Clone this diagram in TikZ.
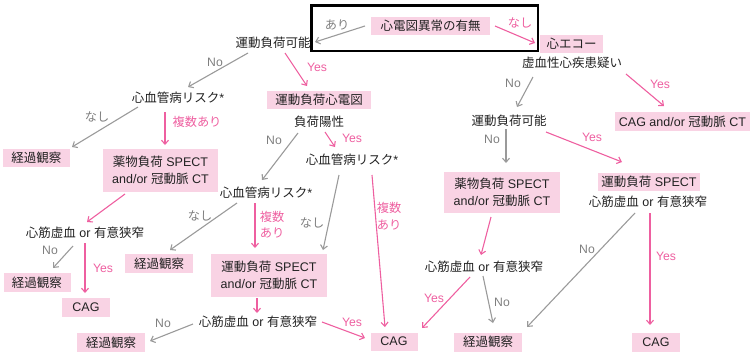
\documentclass[tikz,border=0pt]{standalone}
\usepackage{fontspec}
\setmainfont{Noto Sans CJK JP}
\newfontfamily\lat{Liberation Sans}
\usetikzlibrary{arrows.meta}
\definecolor{pinkfill}{HTML}{F9D3E4}
\definecolor{pinkline}{HTML}{EE5FA0}
\definecolor{grayline}{HTML}{9A9A9A}
\definecolor{graytext}{HTML}{7F7F7F}
\definecolor{txt}{HTML}{222222}
\tikzset{
  box/.style={fill=pinkfill, text=txt, inner sep=0pt, align=center,
    font=\fontsize{12.5}{17}\selectfont},
  plain/.style={text=txt, inner sep=0pt, font=\fontsize{12.5}{17}\selectfont},
  glbl/.style={text=graytext, inner sep=0pt, font=\fontsize{12.2}{16}\selectfont},
  plbl/.style={text=pinkline, inner sep=0pt, font=\fontsize{12.2}{16}\selectfont},
  garrow/.style={draw=grayline, line width=1.1pt, -{Straight Barb[length=4pt,width=7pt]}},
  parrow/.style={draw=pinkline, line width=1.1pt, -{Straight Barb[length=4pt,width=7pt]}},
}
\begin{document}
\begin{tikzpicture}[x=1pt,y=-1pt]
\useasboundingbox (0,0) rectangle (753,354);
% frame
\draw[line width=2.6pt, black] (311.5,5.5) rectangle (538,51);
% boxes
\node[box, minimum width=119pt, minimum height=18pt] (top) at (430.5,26) {心電図異常の有無};
\node[box, minimum width=63pt, minimum height=18pt] (echo) at (571.5,44) {心エコー};
\node[box, minimum width=135pt, minimum height=19pt] (cagct) at (682.5,121.5) {{\lat CAG and/or }冠動脈{\lat\ CT}};
\node[box, minimum width=116pt, minimum height=41pt] (yakuR) at (502,192.5) {薬物負荷{\lat\ SPECT}\\{\lat and/or }冠動脈{\lat\ CT}};
\node[box, minimum width=102pt, minimum height=18pt] (undospect) at (649,182) {運動負荷{\lat\ SPECT}};
\node[box, minimum width=47pt, minimum height=18pt] (cagM) at (394,341.5) {\lat CAG};
\node[box, minimum width=68pt, minimum height=19pt] (keikaMR) at (488,342) {経過観察};
\node[box, minimum width=48pt, minimum height=19pt] (cagR) at (656,342) {\lat CAG};
\node[box, minimum width=104pt, minimum height=18pt] (undoecg) at (319,100) {運動負荷心電図};
\node[box, minimum width=67pt, minimum height=18pt] (keikaL1) at (36.5,158) {経過観察};
\node[box, minimum width=115pt, minimum height=43pt] (yakuL) at (160.5,170.5) {薬物負荷{\lat\ SPECT}\\{\lat and/or }冠動脈{\lat\ CT}};
\node[box, minimum width=67pt, minimum height=19pt] (keikaL2) at (37,282.5) {経過観察};
\node[box, minimum width=48pt, minimum height=19pt] (cagL) at (86,307.5) {\lat CAG};
\node[box, minimum width=68pt, minimum height=19pt] (keikaM) at (159,263.5) {経過観察};
\node[box, minimum width=116pt, minimum height=43pt] (undoSC) at (269,275.5) {運動負荷{\lat\ SPECT}\\{\lat and/or }冠動脈{\lat\ CT}};
\node[box, minimum width=68pt, minimum height=19pt] (keikaB) at (111,342.5) {経過観察};
% plain texts
\node[plain] (kano1) at (273,43) {運動負荷可能};
\node[plain] (kyo) at (572,63) {虚血性心疾患疑い};
\node[plain] (kano2) at (509,121) {運動負荷可能};
\node[plain] (kinM) at (484,267) {心筋虚血{\lat\ or }有意狭窄};
\node[plain] (kinR) at (648,202) {心筋虚血{\lat\ or }有意狭窄};
\node[plain] (riskL) at (178,98) {心血管病リスク{\lat*}};
\node[plain] (fuka) at (319,122) {負荷陽性};
\node[plain] (riskM) at (352,160) {心血管病リスク{\lat*}};
\node[plain] (riskML) at (266,193) {心血管病リスク{\lat*}};
\node[plain] (kinL) at (85,233) {心筋虚血{\lat\ or }有意狭窄};
\node[plain] (kinB) at (258,322) {心筋虚血{\lat\ or }有意狭窄};
% connectors
\draw[garrow] ([shift={(-65.5,0)}]top.center) -- ([shift={(42,-1)}]kano1.center);
\node[glbl] (l1) at (337,25) {あり};
\draw[parrow] ([shift={(64.5,0)}]top.center) -- ([shift={(-36.5,-1)}]echo.center);
\node[plbl] (l2) at (520,23) {なし};
\draw[garrow] ([shift={(-39,14)}]kyo.center) -- ([shift={(8,-14)}]kano2.center);
\node[glbl] (l3) at (513,83) {\lat No};
\draw[parrow] ([shift={(54,11)}]kyo.center) -- ([shift={(-18.5,-15.5)}]cagct.center);
\node[plbl] (l4) at (660,84) {\lat Yes};
\draw[garrow] ([shift={(-3,8)}]kano2.center) -- ([shift={(4,-29.5)}]yakuR.center);
\node[glbl] (l5) at (492,139) {\lat No};
\draw[parrow] ([shift={(37,11)}]kano2.center) -- ([shift={(-27,-20)}]undospect.center);
\node[plbl] (l6) at (592,137) {\lat Yes};
\draw[parrow] ([shift={(-11,24.5)}]yakuR.center) -- ([shift={(-3,-12)}]kinM.center);
\draw[parrow] ([shift={(-14,10)}]kinM.center) -- ([shift={(28,-13.5)}]cagM.center);
\node[plbl] (l7) at (434,298) {\lat Yes};
\draw[garrow] ([shift={(-1,9)}]kinM.center) -- ([shift={(5,-19)}]keikaMR.center);
\node[glbl] (l8) at (502,302) {\lat No};
\draw[garrow] ([shift={(-13,11)}]kinR.center) -- ([shift={(39,-15)}]keikaMR.center);
\node[glbl] (l9) at (587,249) {\lat No};
\draw[parrow] ([shift={(2,11)}]kinR.center) -- ([shift={(-6,-17)}]cagR.center);
\node[plbl] (l10) at (666,256) {\lat Yes};
\draw[parrow] ([shift={(20,15)}]riskM.center) -- ([shift={(-9,-14.5)}]cagM.center);
\node[plbl] (l11a) at (389,208) {複数};
\node[plbl] (l11b) at (389,225) {あり};
\draw[garrow] ([shift={(-13,15)}]riskM.center) -- ([shift={(54,-25.5)}]undoSC.center);
\node[glbl] (l12) at (312,223) {なし};
\draw[garrow] ([shift={(-25,10)}]kano1.center) -- ([shift={(10,-11)}]riskL.center);
\node[glbl] (l13) at (215,62) {\lat No};
\draw[parrow] ([shift={(12,10)}]kano1.center) -- ([shift={(-12,-14)}]undoecg.center);
\node[plbl] (l14) at (317,67) {\lat Yes};
\draw[garrow] ([shift={(-40,9)}]riskL.center) -- ([shift={(35.5,-11)}]keikaL1.center);
\node[glbl] (l15) at (97,117) {なし};
\draw[parrow] ([shift={(-13,14)}]riskL.center) -- ([shift={(4.5,-25.5)}]yakuL.center);
\node[plbl] (l16) at (197,122) {複数あり};
\draw[garrow] ([shift={(-21,11)}]fuka.center) -- ([shift={(-4,-13)}]riskML.center);
\node[glbl] (l17) at (274,140) {\lat No};
\draw[parrow] ([shift={(6,10)}]fuka.center) -- ([shift={(-17,-13)}]riskM.center);
\node[plbl] (l18) at (352,138) {\lat Yes};
\draw[parrow] ([shift={(-35.5,23.5)}]yakuL.center) -- ([shift={(2,-11)}]kinL.center);
\draw[garrow] ([shift={(-12,13)}]kinL.center) -- ([shift={(16,-14.5)}]keikaL2.center);
\node[glbl] (l19) at (50,250) {\lat No};
\draw[parrow] ([shift={(0,10)}]kinL.center) -- ([shift={(-1,-14.5)}]cagL.center);
\node[plbl] (l20) at (103,268) {\lat Yes};
\draw[garrow] ([shift={(-29,10)}]riskML.center) -- ([shift={(11,-13.5)}]keikaM.center);
\node[glbl] (l21) at (200,216) {なし};
\draw[parrow] ([shift={(-11,10)}]riskML.center) -- ([shift={(-14,-27.5)}]undoSC.center);
\node[plbl] (l22a) at (272,217) {複数};
\node[plbl] (l22b) at (272,233) {あり};
\draw[parrow] ([shift={(-12,22.5)}]undoSC.center) -- ([shift={(-1,-9)}]kinB.center);
\draw[garrow] ([shift={(-65,2)}]kinB.center) -- ([shift={(39,-1.5)}]keikaB.center);
\node[glbl] (l23) at (163,323) {\lat No};
\draw[parrow] ([shift={(64,0)}]kinB.center) -- ([shift={(-29,-3.5)}]cagM.center);
\node[plbl] (l24) at (352,322) {\lat Yes};
\end{tikzpicture}
\end{document}
